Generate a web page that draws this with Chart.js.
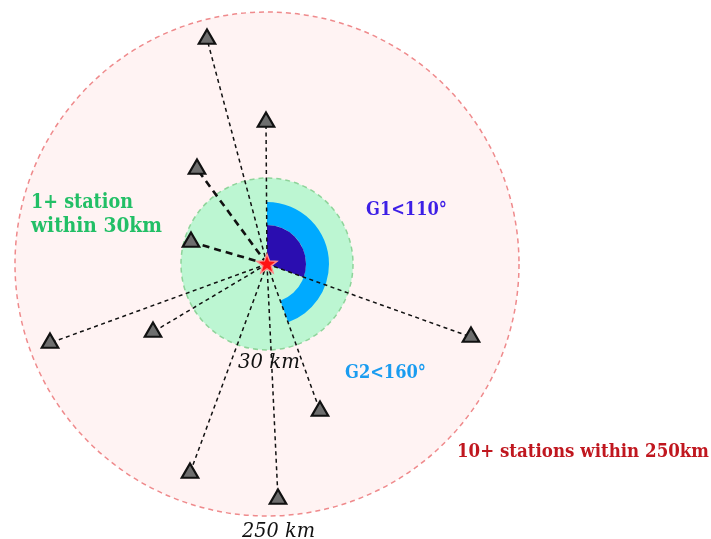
<!DOCTYPE html>
<html>
<head>
<meta charset="utf-8">
<script src="https://cdn.jsdelivr.net/npm/chart.js@4/dist/chart.umd.min.js"></script>
<style>
html,body{margin:0;padding:0;background:#fff;overflow:hidden;}
#wrap{width:711px;height:539px;position:relative;}
</style>
</head>
<body>
<div id="wrap"><canvas id="c"></canvas></div>
<script>
// ---- data (diagram units, epicentre at 0,0, y up) ----
const stationX = [-60, -1, -70, -76, -217, -114, 204, 53, -77, 11];
const stationY = [225, 142, 95, 22, -79, -68, -73, -147, -209, -235];
const nearStations = [2, 3];            // indices of stations drawn with bold links
const zoneRadius = [86, 252];           // 30 km zone, 250 km zone (diagram not to scale)
const zoneLabels = ['30 km', '250 km'];
const gapAngles = [110, 160];           // G1, G2 azimuthal gap limits (deg)
const gapRadii = [39, 62];
const gapLabels = ['G1<110°', 'G2<160°'];
const ruleLabels = [['1+ station', 'within 30km'], ['10+ stations within 250km']];

// star image
function makeStar(){
  const c = document.createElement('canvas'); c.width = 26; c.height = 26;
  const g = c.getContext('2d');
  const R = 10.5, r = 4.4, cx = 13, cy = 13.5;
  g.beginPath();
  for (let i = 0; i < 10; i++) {
    const a = -Math.PI/2 + i*Math.PI/5;
    const rr = i % 2 ? r : R;
    g.lineTo(cx + rr*Math.cos(a), cy + rr*Math.sin(a));
  }
  g.closePath();
  g.fillStyle = '#ff1414'; g.fill();
  g.lineWidth = 1.4; g.strokeStyle = '#ff8a8a'; g.stroke();
  return c;
}

const datasets = [];
datasets.push({
  type:'scatter', data:[{x:0,y:0}], pointStyle: makeStar(), pointRadius: 12, order:0
});
datasets.push({
  type:'scatter',
  data: stationX.map((x,i)=>({x, y: stationY[i]})),
  pointStyle:'triangle', pointRadius: 9.5, backgroundColor:'#6e6e6e',
  borderColor:'#111', borderWidth:2.2, order:1
});
stationX.forEach((x,i)=>{
  const bold = nearStations.includes(i);
  datasets.push({
    type:'line', data:[{x:0,y:0},{x, y: stationY[i]}],
    borderColor:'#111', borderWidth: bold ? 2.6 : 1.5,
    borderDash: bold ? [7,5] : [4,3.5],
    pointRadius:0, fill:false, order:2
  });
});

const bgPlugin = {
  id:'bg',
  beforeDatasetsDraw(chart){
    const ctx = chart.ctx, xs = chart.scales.x, ys = chart.scales.y;
    const cx = xs.getPixelForValue(0), cy = ys.getPixelForValue(0);
    const px = r => xs.getPixelForValue(r) - cx;
    ctx.save();
    // 250 km zone
    ctx.beginPath(); ctx.arc(cx, cy, px(zoneRadius[1]), 0, 2*Math.PI);
    ctx.fillStyle = '#fff3f3'; ctx.fill();
    ctx.setLineDash([5,4]); ctx.lineWidth = 1.5; ctx.strokeStyle = '#ef8a8c'; ctx.stroke();
    // 30 km zone
    ctx.beginPath(); ctx.arc(cx, cy, px(zoneRadius[0]), 0, 2*Math.PI);
    ctx.fillStyle = '#bcf6d2'; ctx.fill();
    ctx.setLineDash([5,4]); ctx.lineWidth = 1.5; ctx.strokeStyle = '#8ed49a'; ctx.stroke();
    ctx.setLineDash([]);
    const ang = d => (d - 90) * Math.PI/180;
    // G2 ring
    ctx.beginPath();
    ctx.arc(cx, cy, px(gapRadii[1]), ang(0), ang(gapAngles[1]));
    ctx.arc(cx, cy, px(gapRadii[0]), ang(gapAngles[1]), ang(0), true);
    ctx.closePath(); ctx.fillStyle = '#00aaff'; ctx.fill();
    // G1 sector
    ctx.beginPath(); ctx.moveTo(cx, cy);
    ctx.arc(cx, cy, px(gapRadii[0]), ang(0), ang(gapAngles[0]));
    ctx.closePath(); ctx.fillStyle = '#2a0db0'; ctx.fill();
    ctx.restore();
  },
  afterDatasetsDraw(chart){
    const ctx = chart.ctx, xs = chart.scales.x, ys = chart.scales.y;
    const P = (x,y)=>[xs.getPixelForValue(x), ys.getPixelForValue(y)];
    ctx.save();
    ctx.textAlign = 'left'; ctx.textBaseline = 'alphabetic';
    const bold = s => 'bold ' + s + 'px "DejaVu Serif", serif';
    const ital = s => 'italic ' + s + 'px "DejaVu Serif", serif';
    function put(text, x, y, font, color, w){
      const [a,b] = P(x,y); ctx.font = font; ctx.fillStyle = color;
      const m = ctx.measureText(text).width;
      ctx.save(); ctx.translate(a,b); ctx.scale(w/m, 1); ctx.fillText(text, 0, 0); ctx.restore();
    }
    put(ruleLabels[0][0], -236, 56, bold(20), '#22bf66', 102);
    put(ruleLabels[0][1], -236, 32, bold(20), '#22bf66', 131);
    put(ruleLabels[1][0], 190, -193, bold(19), '#c0171f', 252);
    put(gapLabels[0], 99, 49, bold(19), '#3d1fe6', 81);
    put(gapLabels[1], 78, -114, bold(19), '#1a9cf0', 81);
    put(zoneLabels[0], -29, -104, ital(20), '#111', 62);
    put(zoneLabels[1], -25, -273, ital(20), '#111', 73);
    ctx.restore();
  }
};

new Chart(document.getElementById('c'), {
  data:{ datasets },
  options:{
    responsive:true, maintainAspectRatio:false, animation:false,
    layout:{padding:0, autoPadding:false},
    plugins:{legend:{display:false}, tooltip:{enabled:false}},
    scales:{
      x:{type:'linear', min:-267, max:444, display:false},
      y:{type:'linear', min:-275, max:264, display:false}
    }
  },
  plugins:[bgPlugin]
});
</script>
</body>
</html>
